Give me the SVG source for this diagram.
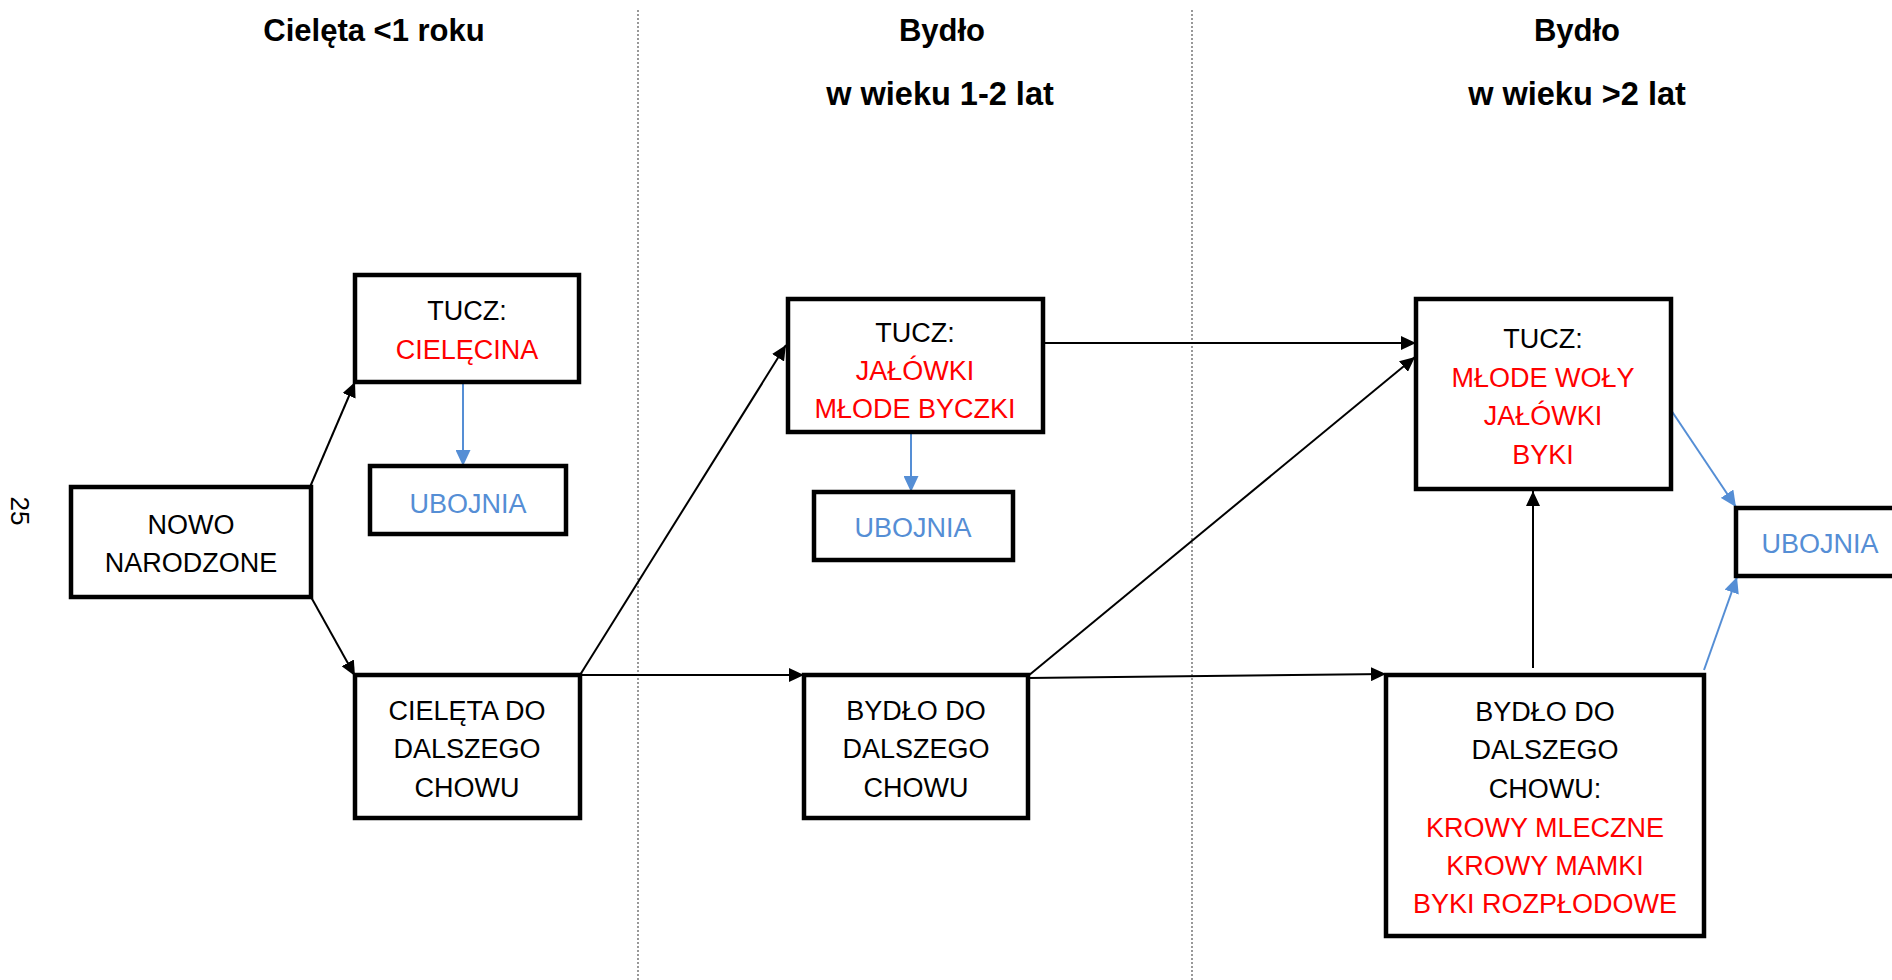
<svg xmlns="http://www.w3.org/2000/svg" width="1892" height="980" viewBox="0 0 1892 980">
<style>
.box{fill:#fff;stroke:#000;stroke-width:4.5}
.t{font-family:"Liberation Sans",Arial,sans-serif;font-size:27px;text-anchor:middle;fill:#000}
.r{fill:#ff0000}
.b{fill:#558ed5}
.h{font-family:"Liberation Sans",Arial,sans-serif;font-size:31px;font-weight:bold;text-anchor:middle;fill:#000}
.w{font-size:32.5px}
.k{stroke:#000;stroke-width:2;fill:none;marker-end:url(#ak)}
.u{stroke:#558ed5;stroke-width:2;fill:none;marker-end:url(#au)}
.sep{stroke:#555;stroke-width:1.2;stroke-dasharray:2 2}
</style>
<defs>
<marker id="ak" markerUnits="userSpaceOnUse" markerWidth="15" markerHeight="14" refX="15" refY="7" orient="auto"><path d="M0,0 L15,7 L0,14 z" fill="#000"/></marker>
<marker id="au" markerUnits="userSpaceOnUse" markerWidth="16" markerHeight="15" refX="16" refY="7.5" orient="auto"><path d="M0,0 L16,7.5 L0,15 z" fill="#558ed5"/></marker>
</defs>
<rect width="1892" height="980" fill="#fff"/>
<g id="separators">
<line class="sep" x1="638" y1="10" x2="638" y2="980"/>
<line class="sep" x1="1192" y1="10" x2="1192" y2="980"/>
</g>
<g id="headings">
<text class="h" x="374" y="41">Cielęta &lt;1 roku</text>
<text class="h" x="942" y="41">Bydło</text>
<text class="h w" x="940" y="105">w wieku 1-2 lat</text>
<text class="h" x="1577" y="41">Bydło</text>
<text class="h w" x="1577" y="105">w wieku &gt;2 lat</text>
</g>
<text font-family="Liberation Sans,Arial,sans-serif" font-size="26" text-anchor="middle" transform="translate(11,511) rotate(90)">25</text>
<g id="connectors">
<line class="k" x1="310" y1="487" x2="355" y2="382"/>
<line class="k" x1="311" y1="597" x2="355" y2="676"/>
<line class="k" x1="580" y1="675" x2="786" y2="345"/>
<line class="k" x1="580" y1="675" x2="804" y2="675"/>
<line class="k" x1="1043" y1="343" x2="1416" y2="343"/>
<line class="k" x1="1028" y1="676" x2="1415" y2="357"/>
<line class="k" x1="1028" y1="678" x2="1386" y2="674"/>
<line class="k" x1="1533" y1="668" x2="1533" y2="491"/>
<line class="u" x1="463" y1="383" x2="463" y2="466"/>
<line class="u" x1="911" y1="433" x2="911" y2="492"/>
<line class="u" x1="1671" y1="410" x2="1736" y2="507"/>
<line class="u" x1="1704" y1="670" x2="1737" y2="577"/>
</g>
<g id="nowo">
<rect class="box" x="71" y="487" width="240" height="110"/>
<text class="t" x="191" y="534">NOWO</text>
<text class="t" x="191" y="572">NARODZONE</text>
</g>
<g id="tucz1">
<rect class="box" x="355" y="275" width="224" height="107"/>
<text class="t" x="467" y="320">TUCZ:</text>
<text class="t r" x="467" y="359">CIELĘCINA</text>
</g>
<g id="ubojnia1">
<rect class="box" x="370" y="466" width="196" height="68"/>
<text class="t b" x="468" y="513">UBOJNIA</text>
</g>
<g id="cielęta">
<rect class="box" x="355" y="675" width="225" height="143"/>
<text class="t" x="467" y="720">CIELĘTA DO</text>
<text class="t" x="467" y="758">DALSZEGO</text>
<text class="t" x="467" y="797">CHOWU</text>
</g>
<g id="tucz2">
<rect class="box" x="788" y="299" width="255" height="133"/>
<text class="t" x="915" y="342">TUCZ:</text>
<text class="t r" x="915" y="380">JAŁÓWKI</text>
<text class="t r" x="915" y="418">MŁODE BYCZKI</text>
</g>
<g id="ubojnia2">
<rect class="box" x="814" y="492" width="199" height="68"/>
<text class="t b" x="913" y="537">UBOJNIA</text>
</g>
<g id="bydlo2">
<rect class="box" x="804" y="675" width="224" height="143"/>
<text class="t" x="916" y="720">BYDŁO DO</text>
<text class="t" x="916" y="758">DALSZEGO</text>
<text class="t" x="916" y="797">CHOWU</text>
</g>
<g id="tucz3">
<rect class="box" x="1416" y="299" width="255" height="190"/>
<text class="t" x="1543" y="348">TUCZ:</text>
<text class="t r" x="1543" y="387">MŁODE WOŁY</text>
<text class="t r" x="1543" y="425">JAŁÓWKI</text>
<text class="t r" x="1543" y="464">BYKI</text>
</g>
<g id="ubojnia3">
<rect class="box" x="1736" y="508" width="199" height="68"/>
<text class="t b" x="1820" y="553">UBOJNIA</text>
</g>
<g id="bydlo3">
<rect class="box" x="1386" y="675" width="318" height="261"/>
<text class="t" x="1545" y="721">BYDŁO DO</text>
<text class="t" x="1545" y="759">DALSZEGO</text>
<text class="t" x="1545" y="798">CHOWU:</text>
<text class="t r" x="1545" y="837">KROWY MLECZNE</text>
<text class="t r" x="1545" y="875">KROWY MAMKI</text>
<text class="t r" x="1545" y="913">BYKI ROZPŁODOWE</text>
</g>
</svg>
